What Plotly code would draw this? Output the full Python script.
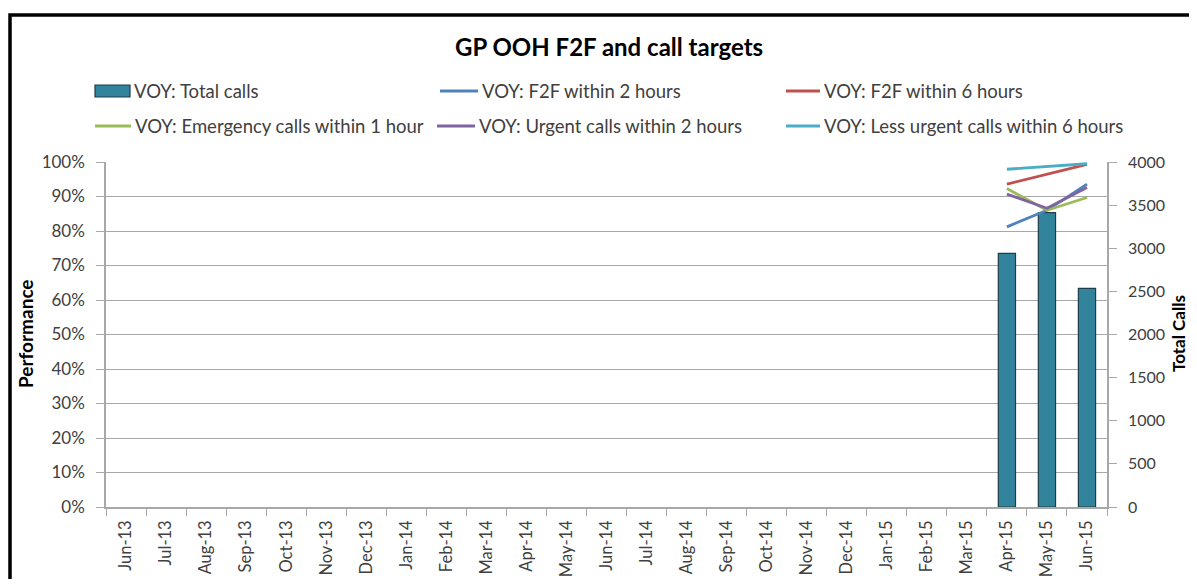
import plotly.graph_objects as go

# ---------------- data ----------------
months = ["Jun-13", "Jul-13", "Aug-13", "Sep-13", "Oct-13", "Nov-13", "Dec-13",
          "Jan-14", "Feb-14", "Mar-14", "Apr-14", "May-14", "Jun-14", "Jul-14",
          "Aug-14", "Sep-14", "Oct-14", "Nov-14", "Dec-14", "Jan-15", "Feb-15",
          "Mar-15", "Apr-15", "May-15", "Jun-15"]
empty = [None] * 22
total_calls = empty + [2940, 3414, 2535]
f2f_2h = empty + [0.812, 0.860, 0.936]
f2f_6h = empty + [0.936, 0.965, 0.993]
emergency_1h = empty + [0.923, 0.860, 0.897]
urgent_2h = empty + [0.907, 0.866, 0.926]
less_urgent_6h = empty + [0.979, 0.986, 0.995]

title = "GP OOH F2F and call targets"
left_title = "Performance"
right_title = "Total Calls"
bar_name = "VOY: Total calls"
line_names = ["VOY: F2F within 2 hours", "VOY: F2F within 6 hours",
              "VOY: Emergency calls within 1 hour", "VOY: Urgent calls within 2 hours",
              "VOY: Less urgent calls within 6 hours"]
line_values = [f2f_2h, f2f_6h, emergency_1h, urgent_2h, less_urgent_6h]
line_colors = ["#4F81BD", "#C0504D", "#9BBB59", "#8064A2", "#4BACC6"]
bar_color = "#31849B"
bar_edge = "#1F3C47"

# ---------------- layout geometry (reference pixels) ----------------
OFF = 8                      # page body margin of the html page
W, H = 1197 - OFF, 587 - 2 * OFF   # keep page free of scrollbars
PL, PR, PT, PB = 106, 1107, 162, 507   # plot area in screenshot pixels
FONT = "Lato"
TXT = "#404040"
GRID = "#A8A8A8"

def px(x):
    return (x - PL) / (PR - PL)

def py(y):
    return (PB - y) / (PB - PT)

fig = go.Figure()

# bars on primary (right side) axis so lines draw on top
fig.add_trace(go.Bar(x=months, y=total_calls, name=bar_name, yaxis="y",
                     marker=dict(color=bar_color, line=dict(color=bar_edge, width=1.2)),
                     width=0.43, showlegend=False))
for name, vals, col in zip(line_names, line_values, line_colors):
    fig.add_trace(go.Scatter(x=months, y=vals, name=name, yaxis="y2", mode="lines",
                             line=dict(color=col, width=2.8), showlegend=False,
                             connectgaps=False))

fig.update_layout(
    width=W, height=H,
    margin=dict(l=PL - OFF, r=W + OFF - PR, t=PT - OFF, b=H + OFF - PB, pad=0,
                autoexpand=False),
    paper_bgcolor="white", plot_bgcolor="white",
    font=dict(family=FONT, color=TXT, size=16),
    showlegend=False,
    xaxis=dict(type="category", categoryorder="array", categoryarray=months,
               range=[-0.5, len(months) - 0.5], automargin=False,
               tickangle=-90, tickson="boundaries", ticks="outside", ticklen=7,
               tickcolor=GRID, showline=True, linecolor=GRID, linewidth=1.5,
               showgrid=False, ticklabelstandoff=5,
               tickfont=dict(size=16.5, color=TXT, family=FONT)),
    yaxis=dict(side="right", range=[0, 4000], dtick=500, showgrid=False,
               automargin=False,
               ticks="outside", ticklen=8, tickcolor=GRID, showline=True,
               linecolor=GRID, linewidth=1.5, zeroline=False, ticklabelstandoff=8,
               tickfont=dict(size=16, color=TXT, family=FONT)),
    yaxis2=dict(side="left", overlaying="y", range=[0, 1], dtick=0.1,
                automargin=False,
                tickformat=".0%", showgrid=True, gridcolor=GRID, gridwidth=1.3,
                ticks="outside", ticklen=8, tickcolor=GRID, showline=True,
                linecolor=GRID, linewidth=1.5, zeroline=False, ticklabelstandoff=8,
                tickfont=dict(size=17, color=TXT, family=FONT)),
)

annotations = [dict(text="<b>" + title + "</b>", xref="paper", yref="paper",
                    x=px(609), y=py(46), xanchor="center", yanchor="middle",
                    showarrow=False, font=dict(size=24, color="#000000", family=FONT)),
               dict(text="<b>" + left_title + "</b>", xref="paper", yref="paper",
                    x=px(25), y=py(334), xanchor="center", yanchor="middle",
                    textangle=-90, showarrow=False,
                    font=dict(size=19, color="#000000", family=FONT)),
               dict(text="<b>" + right_title + "</b>", xref="paper", yref="paper",
                    x=px(1178), y=py(334), xanchor="center", yanchor="middle",
                    textangle=-90, showarrow=False,
                    font=dict(size=17, color="#000000", family=FONT))]
shapes = []

# outer chart frame (black)
shapes.append(dict(type="rect", xref="paper", yref="paper",
                   x0=px(10), x1=px(1215), y0=py(620), y1=py(15),
                   line=dict(color="#000000", width=3.5), fillcolor="rgba(0,0,0,0)",
                   layer="above"))

# manual legend
legend_items = [(bar_name, bar_color, "bar", 95, 130, 91)]
leg_pos = [(440, 478, 91), (786, 820, 91), (95, 131, 126), (437, 475, 126), (786, 820, 126)]
for name, col, (x0, x1, yy) in zip(line_names, line_colors, leg_pos):
    legend_items.append((name, col, "line", x0, x1, yy))

for name, col, kind, x0, x1, yy in legend_items:
    if kind == "bar":
        shapes.append(dict(type="rect", xref="paper", yref="paper",
                           x0=px(x0), x1=px(x1), y0=py(yy + 6), y1=py(yy - 6),
                           fillcolor=col, line=dict(color=bar_edge, width=1.2)))
    else:
        shapes.append(dict(type="line", xref="paper", yref="paper",
                           x0=px(x0), x1=px(x1), y0=py(yy), y1=py(yy),
                           line=dict(color=col, width=2.8)))
    annotations.append(dict(text=name, xref="paper", yref="paper",
                            x=px(x1 + 2), y=py(yy), xanchor="left", yanchor="middle",
                            showarrow=False, font=dict(size=18.5, color=TXT, family=FONT)))

fig.update_layout(annotations=annotations, shapes=shapes)

fig.write_html("out.html")
